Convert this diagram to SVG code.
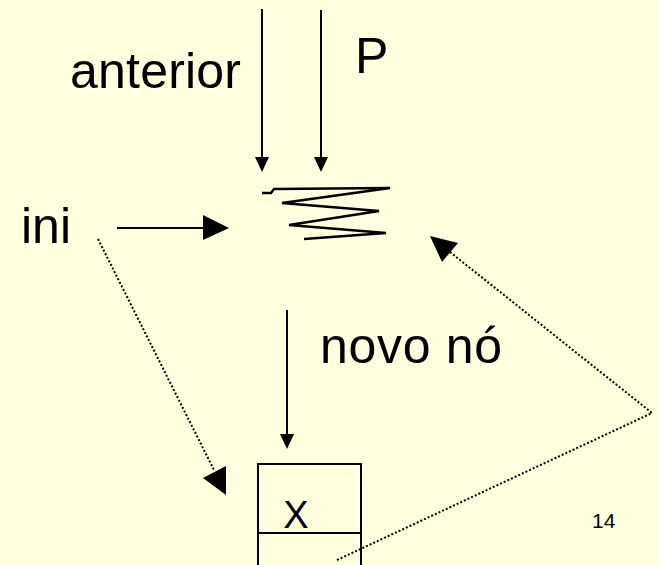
<svg xmlns="http://www.w3.org/2000/svg" width="659" height="565" viewBox="0 0 659 565">
<style>
  text { font-family: "Liberation Sans", Arial, sans-serif; fill: #000; }
  .big { font-size: 50px; }
  .solid { stroke: #000; stroke-width: 2; fill: none; }
  .dot { stroke: #000; stroke-width: 2; fill: none; stroke-dasharray: 2 2; }
  .head { fill: #000; stroke: none; }
</style>
<rect width="659" height="565" fill="#FFFFE0"/>

<g id="label-anterior"><text class="big" x="70" y="88" textLength="171">anterior</text></g>
<g id="label-P"><text class="big" x="355" y="73">P</text></g>
<g id="label-ini"><text class="big" x="21" y="243">ini</text></g>
<g id="label-novo"><text class="big" x="320" y="363" textLength="182">novo nó</text></g>
<g id="page-number"><text x="592" y="528" font-size="21">14</text></g>

<g id="node-list">
  <polyline points="262,193 271,193 274,189 390,188 282,203 379,211 289,225 386,233 304,239" fill="none" stroke="#000" stroke-width="2.6" stroke-linejoin="miter"/>
</g>

<g id="node-new">
  <rect x="258" y="464" width="103" height="110" fill="none" stroke="#000" stroke-width="2"/>
  <line x1="258" y1="533" x2="361" y2="533" stroke="#000" stroke-width="2"/>
  <text x="296" y="528" font-size="38" text-anchor="middle">X</text>
</g>

<g id="connectors">
  <line class="solid" x1="262" y1="9" x2="262" y2="160"/>
  <polygon class="head" points="255,157 269,157 262,172"/>
  <line class="solid" x1="321" y1="10" x2="321" y2="160"/>
  <polygon class="head" points="314,157 328,157 321,172"/>
  <line class="solid" x1="117" y1="228" x2="205" y2="228"/>
  <polygon class="head" points="203,215 203,240 229,228"/>
  <line class="solid" x1="287" y1="310" x2="287" y2="436"/>
  <polygon class="head" points="280,434 294,434 287,449"/>
  <line class="dot" x1="98" y1="239" x2="214" y2="470"/>
  <polygon class="head" points="226,466 226,495 203,478"/>
  <polyline class="dot" points="337,560 652,413 450,252"/>
  <polygon class="head" points="430,236 458,243 442,262"/>
</g>
</svg>
